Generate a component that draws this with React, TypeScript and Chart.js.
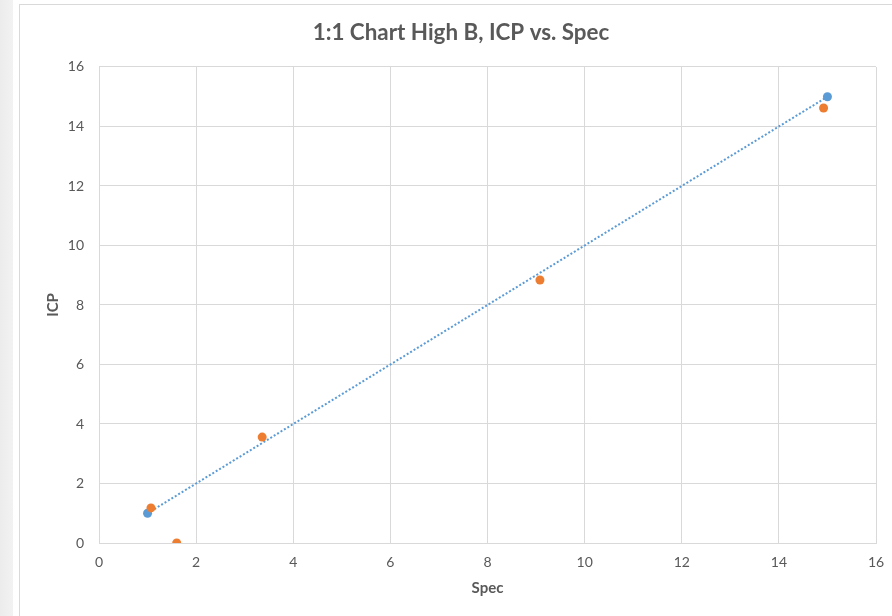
import React, { useEffect, useRef } from "react";
import { Chart, registerables } from "chart.js";

Chart.register(...registerables);

const chartTitle = "1:1 Chart High B, ICP vs. Spec";
const xAxisTitle = "Spec";
const yAxisTitle = "ICP";

const blueX = [1, 15];
const blueY = [1, 15];
const orangeX = [1.07, 1.6, 3.36, 9.08, 14.92];
const orangeY = [1.18, 0, 3.56, 8.84, 14.62];
const trendX = [1, 15];
const trendY = [1, 15];

const axisMin = 0;
const axisMax = 16;
const axisStep = 2;

const toPoints = (xs: number[], ys: number[]) => xs.map((x, i) => ({ x, y: ys[i] }));

export default function App() {
  const ref = useRef<HTMLCanvasElement | null>(null);

  useEffect(() => {
    if (!ref.current) return;
    const font = "Lato, 'Open Sans', sans-serif";
    const textColor = "#595959";
    const gridColor = "#d9d9d9";
    const chart = new Chart(ref.current, {
      type: "scatter",
      data: {
        datasets: [
          {
            label: "Orange",
            data: toPoints(orangeX, orangeY),
            backgroundColor: "#ed7d31",
            borderColor: "#ed7d31",
            pointRadius: 4.5,
            pointBorderWidth: 0,
          },
          {
            label: "Blue",
            data: toPoints(blueX, blueY),
            backgroundColor: "#5b9bd5",
            borderColor: "#5b9bd5",
            pointRadius: 4.5,
            pointBorderWidth: 0,
          },
          {
            label: "Linear (Blue)",
            data: toPoints(trendX, trendY),
            showLine: true,
            borderColor: "#5b9bd5",
            borderWidth: 2,
            borderDash: [2, 2],
            pointRadius: 0,
            fill: false,
          } as any,
        ],
      },
      options: {
        animation: false,
        responsive: false,
        maintainAspectRatio: false,
        layout: { padding: { left: 0, right: 20, top: 0, bottom: 0 } },
        plugins: {
          legend: { display: false },
          tooltip: { enabled: false },
          title: {
            display: true,
            text: chartTitle,
            color: textColor,
            font: { family: font, size: 22.4, weight: "bold" },
            padding: { top: 19.6, bottom: 20.5 },
          },
        },
        scales: {
          x: {
            type: "linear",
            min: axisMin,
            max: axisMax,
            ticks: {
              stepSize: axisStep,
              color: textColor,
              font: { family: font, size: 14 },
              padding: 10.6,
            },
            grid: { color: gridColor, drawTicks: false, lineWidth: 1 },
            border: { color: gridColor, width: 1 },
            title: {
              display: true,
              text: xAxisTitle,
              color: textColor,
              font: { family: font, size: 15, weight: "bold" },
              padding: { top: 0, bottom: 19 },
            },
            afterFit: (s: any) => {
              s.height = 73;
            },
          },
          y: {
            type: "linear",
            min: axisMin,
            max: axisMax,
            ticks: {
              stepSize: axisStep,
              color: textColor,
              font: { family: font, size: 14 },
              padding: 15,
            },
            grid: { color: gridColor, drawTicks: false, lineWidth: 1 },
            border: { color: gridColor, width: 1 },
            title: {
              display: true,
              text: yAxisTitle,
              color: textColor,
              font: { family: font, size: 15, weight: "bold", lineHeight: 1 },
              padding: { top: 0, bottom: 0 },
            },
            afterFit: (s: any) => {
              s.width = 53;
            },
          },
        },
      },
    });
    return () => chart.destroy();
  }, []);

  return (
    <div
      style={{
        position: "fixed",
        left: 0,
        top: 0,
        width: 892,
        height: 616,
        overflow: "hidden",
        background: "#ffffff",
      }}
    >
      <div
        style={{
          position: "absolute",
          left: 0,
          top: 0,
          width: 13,
          height: 616,
          background: "linear-gradient(90deg, #ececec, #f2f2f2)",
        }}
      />
      <div
        style={{
          position: "absolute",
          left: 19,
          top: 4,
          width: 900,
          height: 700,
          border: "1px solid #d9d9d9",
          boxSizing: "border-box",
          background: "#ffffff",
        }}
      />
      <canvas
        ref={ref}
        width={850}
        height={616}
        style={{ position: "absolute", left: 46, top: 0, width: 850, height: 616 }}
      />
    </div>
  );
}
